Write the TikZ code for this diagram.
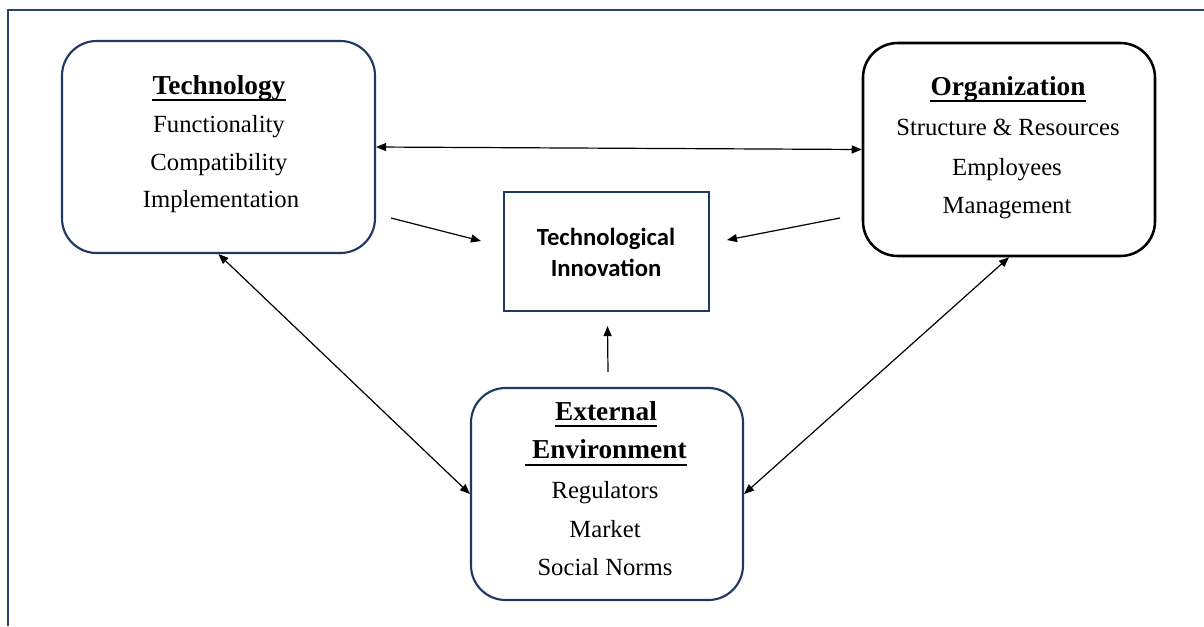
\documentclass[tikz,border=0pt]{standalone}
\usepackage{fontspec}
\setmainfont{Liberation Serif}
\newfontfamily\calfont{Carlito}
\usetikzlibrary{arrows.meta,calc}
\definecolor{navy}{HTML}{1F3864}
\definecolor{framecol}{HTML}{2A4170}
\begin{document}
\begin{tikzpicture}[x=0.75pt,y=-0.75pt,
  box/.style={draw=navy,line width=1.6pt,rounded corners=26pt,fill=white,inner sep=0pt},
  blackbox/.style={box,draw=black},
  corebox/.style={draw=navy,line width=1.6pt,fill=white,inner sep=0pt},
  txt/.style={inner sep=0pt,anchor=base,font=\fontsize{18.5}{22}\selectfont},
  head/.style={inner sep=0pt,anchor=base,font=\fontsize{20.5}{24}\selectfont\bfseries},
  coretxt/.style={inner sep=0pt,anchor=base,font=\calfont\fontsize{18.5}{22}\selectfont\bfseries},
  tip/.tip={Triangle[length=7.5pt,width=6pt]},
  link/.style={line width=0.9pt,-tip},
  both/.style={line width=0.9pt,tip-tip},
  ul/.style={line width=1.1pt}
]
\useasboundingbox (0,0) rectangle (1204,626);
\fill[white] (0,0) rectangle (1204,626);
% outer frame (runs off the right and bottom edges)
\draw[framecol,line width=1.1pt] (1204,10) -- (8,10) -- (8,626);

% boxes
\node[box,minimum width=234.75pt,minimum height=159pt] (tech) at (218.5,147) {};
\node[blackbox,line width=1.9pt,minimum width=219pt,minimum height=159.75pt] (org) at (1009,149.5) {};
\node[box,minimum width=204pt,minimum height=159pt] (ext) at (607,494) {};
\node[corebox,minimum width=153.75pt,minimum height=89.25pt] (inno) at (606.5,251.5) {};

% Technology
\node[head] (techT) at (219,94) {Technology};
\node[txt] (tech1) at (219,132) {Functionality};
\node[txt] (tech2) at (219,170) {Compatibility};
\node[txt] (tech3) at (221,207) {Implementation};
\draw[ul] ($(techT.base west)+(0,6)$) -- ($(techT.base east)+(0,6)$);

% Organization
\node[head] (orgT) at (1008,95) {Organization};
\node[txt] (org1) at (1008,135) {Structure \& Resources};
\node[txt] (org2) at (1007,175) {Employees};
\node[txt] (org3) at (1007,213) {Management};
\draw[ul] ($(orgT.base west)+(0,6)$) -- ($(orgT.base east)+(0,6)$);

% External Environment
\node[head] (extT1) at (606,420) {External};
\node[head] (extT2) at (606,458) {\hspace*{0.25em}Environment};
\node[txt] (ext1) at (605,498) {Regulators};
\node[txt] (ext2) at (605,537) {Market};
\node[txt] (ext3) at (605,575) {Social Norms};
\draw[ul] ($(extT1.base west)+(0,6)$) -- ($(extT1.base east)+(0,6)$);
\draw[ul] ($(extT2.base west)+(0,7)$) -- ($(extT2.base east)+(0,7)$);

% Technological Innovation
\node[coretxt] (inno1) at (606,245) {Technological};
\node[coretxt] (inno2) at (606,276) {Innovation};

% connectors
\draw[both] (tech.east) -- (org.west);
\draw[both] (tech.south) -- (ext.west);
\draw[both] (org.south) -- (ext.east);

\coordinate (fromTech) at (391,218);
\coordinate (toCoreL) at (481,241);
\coordinate (fromOrg) at (840,218);
\coordinate (toCoreR) at (727,240);
\draw[link] (fromTech) -- (toCoreL);
\draw[link] (fromOrg) -- (toCoreR);
\draw[link] ($(ext.north)+(1,-15)$) -- ($(inno.south)+(1,14)$);
\end{tikzpicture}
\end{document}
